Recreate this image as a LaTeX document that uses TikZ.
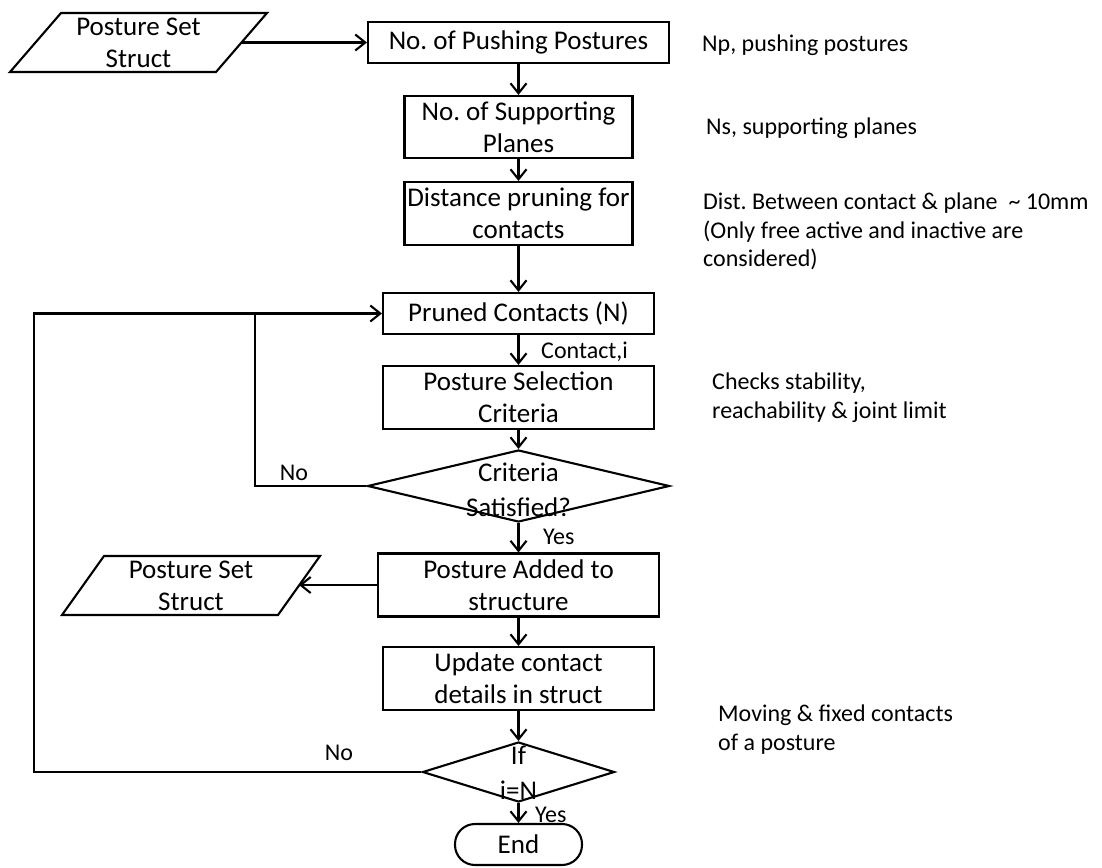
\documentclass[tikz,border=0pt]{standalone}
\usepackage{fontspec}
\setmainfont{Carlito}
\usetikzlibrary{shapes.geometric,arrows.meta}
\newcommand{\boxfont}{\fontsize{27}{32}\selectfont}
\newcommand{\notefont}{\fontsize{24}{28.5}\selectfont}
\frenchspacing
\begin{document}
\begin{tikzpicture}[x=1pt,y=-1pt,
  wire/.style={draw=black, line width=2.1pt},
  arrow/.style={wire, -{Straight Barb[length=10pt,width=16pt]}},
  procbox/.style={draw=black, line width=2.1pt, align=center, inner sep=0pt, font=\boxfont},
  txt/.style={align=center, inner sep=0pt, font=\boxfont},
  note/.style={align=left, inner sep=0pt, anchor=west, font=\notefont},
  tag/.style={inner sep=0pt, font=\notefont},
  decision/.style={diamond, draw=black, line width=2.1pt, inner sep=0pt},
  terminal/.style={draw=black, line width=2.1pt, rounded corners=20pt, inner sep=0pt, font=\boxfont}]
\useasboundingbox (0,0) rectangle (1102,867);

% input / output parallelograms
\node[txt] (p1) at (138.5,42.5) {Posture Set\\Struct};
\draw[wire] (61,13) -- (267,13) -- (216,72) -- (10,72) -- cycle;
\coordinate (p1e) at (241.5,42.5);

\node[txt] (p2) at (191,585.5) {Posture Set\\Struct};
\draw[wire] (104,556) -- (320,556) -- (278,615) -- (62,615) -- cycle;
\coordinate (p2e) at (299,585);

% process steps
\node[procbox, minimum width=301pt, minimum height=41pt] (b1) at (518.5,42.5) {No. of Pushing Postures};
\node[procbox, minimum width=228pt, minimum height=62pt] (b2) at (518.5,127) {No. of Supporting\\Planes};
\node[procbox, minimum width=228pt, minimum height=63pt] (b3) at (518.5,213.5) {Distance pruning for\\contacts};
\node[procbox, minimum width=271pt, minimum height=41pt] (b4) at (518.5,313.5) {Pruned Contacts (N)};
\node[procbox, minimum width=271pt, minimum height=63pt] (b5) at (518.5,397.5) {Posture Selection\\Criteria};
\node[decision, minimum width=302pt, minimum height=72pt] (d1) at (518.5,486) {};
\node[txt] (d1a) at (518.5,472) {Criteria};
\node[txt] (d1b) at (518.5,507) {Satisfied?};
\node[procbox, minimum width=281pt, minimum height=63pt] (b6) at (518.5,585) {Posture Added to\\structure};
\node[procbox, minimum width=271pt, minimum height=63pt] (b7) at (518.5,678.5) {Update contact\\details in struct};
\node[decision, minimum width=192pt, minimum height=60pt] (d2) at (518.5,772) {};
\node[txt] (d2a) at (518.5,755) {If};
\node[txt] (d2b) at (518.5,790) {i=N};
\node[terminal, minimum width=127pt, minimum height=41pt] (end) at (518.5,844.5) {End};

% connector labels
\node[tag, anchor=west] (lc) at (541,352) {Contact,i};
\node[tag, anchor=west] (ly1) at (543,537) {Yes};
\node[tag, anchor=west] (ly2) at (535,815) {Yes};
\node[tag] (ln1) at (294,473) {No};
\node[tag] (ln2) at (339,753) {No};

% side notes
\node[note] (n1) at (702,45) {Np, pushing postures};
\node[note] (n2) at (706,128) {Ns, supporting planes};
\node[note] (n3) at (703,231.5) {Dist. Between contact \& plane\ \ \textasciitilde\ 10mm\\(Only free active and inactive are\\considered)};
\node[note] (n4) at (712,397.5) {Checks stability,\\reachability \& joint limit};
\node[note] (n5) at (718,729.5) {Moving \& fixed contacts\\of a posture};

% main flow
\draw[arrow] (p1e) -- (b1.west);
\draw[arrow] (b1.south) -- (b2.north);
\draw[arrow] (b2.south) -- (b3.north);
\draw[arrow] (b3.south) -- (b4.north);
\draw[arrow] (b4.south) -- (b5.north);
\draw[arrow] (b5.south) -- (d1.north);
\draw[arrow] (d1.south) -- (b6.north);
\draw[arrow] (b6.west) -- (p2e);
\draw[arrow] (b6.south) -- (b7.north);
\draw[arrow] (b7.south) -- (d2.north);
\draw[arrow] (d2.south) -- (end.north);

% loops back to the pruned contacts
\coordinate (j) at (255,313.5);
\draw[arrow] (d2.west) -- (34,772) |- (b4.west);
\draw[wire] (d1.west) -| (j);
\end{tikzpicture}
\end{document}
